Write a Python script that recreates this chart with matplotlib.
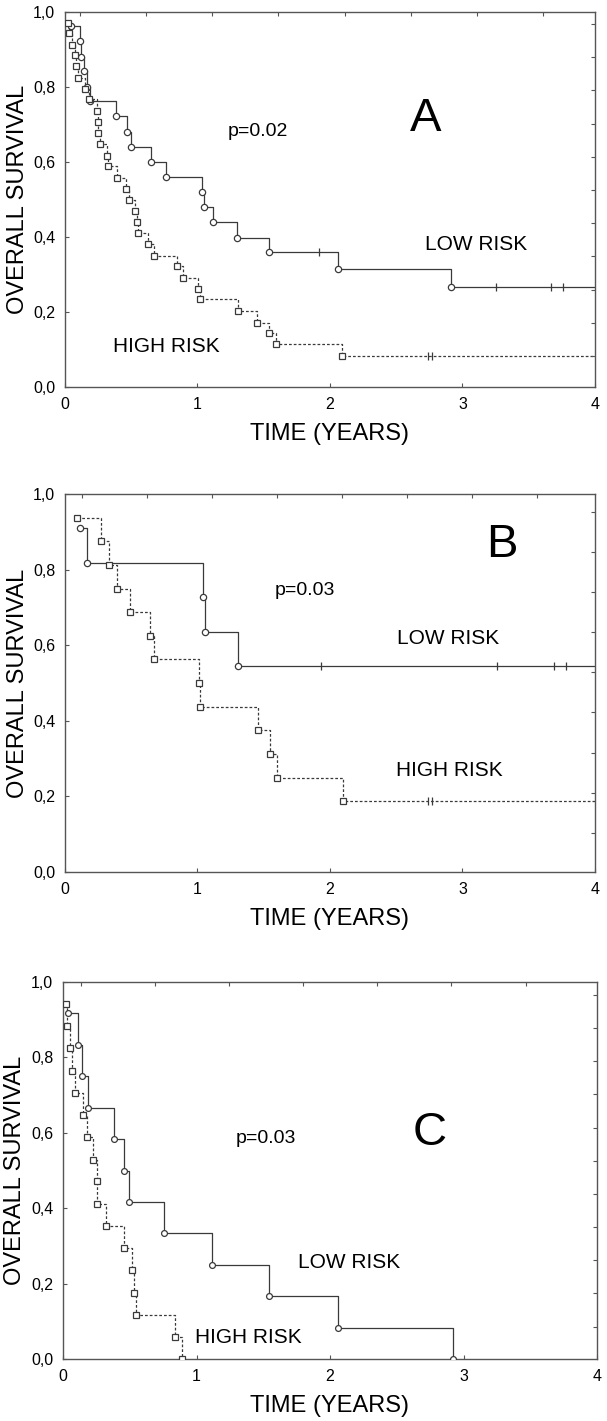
import numpy as np
import matplotlib
matplotlib.use("Agg")
import matplotlib.pyplot as plt

plt.rcParams["font.family"] = ["Liberation Sans", "DejaVu Sans"]

# panel A
a_low_t = [0.045, 0.113, 0.123, 0.146, 0.163, 0.189, 0.385, 0.465, 0.50, 0.649, 0.762,
           1.036, 1.049, 1.12, 1.30, 1.54, 2.063, 2.91]
a_low_s = [0.963, 0.922, 0.881, 0.843, 0.799, 0.763, 0.722, 0.681, 0.641, 0.599, 0.56,
           0.519, 0.479, 0.439, 0.398, 0.359, 0.314, 0.267]
a_low_cens_t = [1.917, 3.25, 3.67, 3.76]
a_low_cens_s = [0.359, 0.267, 0.267, 0.267]
a_high_t = [0.025, 0.03, 0.055, 0.078, 0.083, 0.10, 0.151, 0.181, 0.239, 0.251, 0.252,
            0.264, 0.319, 0.327, 0.39, 0.46, 0.485, 0.528, 0.541, 0.553, 0.629, 0.672,
            0.843, 0.888, 1.006, 1.019, 1.308, 1.447, 1.54, 1.59, 2.09]
a_high_s = [0.972, 0.943, 0.913, 0.885, 0.856, 0.825, 0.796, 0.767, 0.737, 0.708, 0.676,
            0.648, 0.617, 0.589, 0.558, 0.529, 0.50, 0.469, 0.441, 0.41, 0.381, 0.35,
            0.323, 0.292, 0.261, 0.235, 0.203, 0.172, 0.145, 0.114, 0.084]
a_high_cens_t = [2.74, 2.77]
a_high_cens_s = [0.084, 0.084]

# panel B
b_low_t = [0.113, 0.168, 1.04, 1.06, 1.308]
b_low_s = [0.909, 0.818, 0.727, 0.636, 0.545]
b_low_cens_t = [1.93, 3.26, 3.69, 3.78]
b_low_cens_s = [0.545, 0.545, 0.545, 0.545]
b_high_t = [0.088, 0.27, 0.334, 0.395, 0.49, 0.639, 0.672, 1.014, 1.019, 1.459, 1.547,
            1.60, 2.10]
b_high_s = [0.9375, 0.875, 0.8125, 0.75, 0.6875, 0.625, 0.5625, 0.5, 0.4375, 0.375,
            0.3125, 0.25, 0.1875]
b_high_cens_t = [2.74, 2.77]
b_high_cens_s = [0.1875, 0.1875]

# panel C
c_low_t = [0.04, 0.11, 0.14, 0.19, 0.383, 0.457, 0.497, 0.757, 1.118, 1.545, 2.06, 2.92]
c_low_s = [0.917, 0.833, 0.75, 0.667, 0.583, 0.5, 0.417, 0.333, 0.25, 0.167, 0.083, 0.0]
c_high_t = [0.02, 0.03, 0.05, 0.07, 0.09, 0.147, 0.177, 0.227, 0.252, 0.255, 0.32, 0.457,
            0.52, 0.533, 0.55, 0.84, 0.89]
c_high_s = [0.941, 0.882, 0.824, 0.765, 0.706, 0.647, 0.588, 0.529, 0.471, 0.412, 0.353,
            0.294, 0.235, 0.176, 0.118, 0.059, 0.0]

x_ticks = [0, 1, 2, 3, 4]
y_ticks = [0.0, 0.2, 0.4, 0.6, 0.8, 1.0]
y_ticklabels = ["0,0", "0,2", "0,4", "0,6", "0,8", "1,0"]

LINE = "#3a3a3a"
SPINE = "#555555"


def km(ax, t, s, marker, ls, end=None, cens_t=(), cens_s=(), ms=4.5):
    # curve starts at the first event, as in the original software
    xs = list(t)
    ys = list(s)
    if end is not None:
        xs.append(end)
        ys.append(s[-1])
    ax.step(xs, ys, where="post", color=LINE, lw=0.9, ls=ls, zorder=2)
    ax.plot(t, s, ls="none", marker=marker, ms=ms, mfc="white", mec=LINE, mew=0.9, zorder=3)
    if len(cens_t):
        ax.plot(cens_t, cens_s, ls="none", marker="|", ms=6, mec=LINE, mew=0.9, zorder=3)


def frame(ax, top_ticks, right_ticks):
    ax.set_xlim(0, 4)
    ax.set_ylim(0, 1)
    ax.set_xticks(x_ticks)
    ax.set_xticklabels([str(v) for v in x_ticks])
    ax.set_yticks(y_ticks)
    ax.set_yticklabels(y_ticklabels)
    ax.tick_params(direction="in", length=3, width=0.8, color=SPINE, labelsize=11.5,
                   pad=7)
    for sp in ax.spines.values():
        sp.set_color(SPINE)
        sp.set_linewidth(1.0)
    tx = ax.twiny()
    tx.set_xlim(0, 4)
    tx.set_xticks(top_ticks)
    tx.set_xticklabels([])
    tx.tick_params(direction="in", length=3, width=0.8, color=SPINE)
    ty = ax.twinx()
    ty.set_ylim(0, 1)
    ty.set_yticks(right_ticks)
    ty.set_yticklabels([])
    ty.tick_params(direction="in", length=3, width=0.8, color=SPINE)
    for tw in (tx, ty):
        for sp in tw.spines.values():
            sp.set_visible(False)
    ax.text(0.5, -0.125, "TIME (YEARS)", transform=ax.transAxes, ha="center",
            va="center", fontsize=17)
    ax.text(-0.089, 0.5, "OVERALL SURVIVAL", transform=ax.transAxes, ha="center",
            va="center", rotation=90, fontsize=17)


fig = plt.figure(figsize=(6.07, 14.21), dpi=100)
W, H = 607.0, 1421.0

# A
ax = fig.add_axes([65 / W, 1 - 387 / H, 530 / W, 375 / H])
km(ax, a_low_t, a_low_s, "o", "-", 4, a_low_cens_t, a_low_cens_s)
km(ax, a_high_t, a_high_s, "s", (0, (2.2, 1.6)), 4, a_high_cens_t, a_high_cens_s, ms=5)
frame(ax, np.arange(0.11, 4, 0.5), np.arange(0.083, 1.0, 0.0885))
ax.text(1.23, 0.68, "p=0.02", fontsize=14, va="center", ha="left")
ax.text(2.72, 0.715, "A", fontsize=34, va="center", ha="center")
ax.text(3.10, 0.379, "LOW RISK", fontsize=15, va="center", ha="center")
ax.text(0.765, 0.107, "HIGH RISK", fontsize=15, va="center", ha="center")

# B
ax = fig.add_axes([65 / W, 1 - 872 / H, 530 / W, 378 / H])
km(ax, b_low_t, b_low_s, "o", "-", 4, b_low_cens_t, b_low_cens_s)
km(ax, b_high_t, b_high_s, "s", (0, (2.2, 1.6)), 4, b_high_cens_t, b_high_cens_s, ms=5)
frame(ax, np.arange(0.126, 4, 0.491), np.arange(0.952, 0.0, -0.106))
ax.text(1.585, 0.745, "p=0.03", fontsize=14, va="center", ha="left")
ax.text(3.30, 0.866, "B", fontsize=34, va="center", ha="center")
ax.text(2.89, 0.618, "LOW RISK", fontsize=15, va="center", ha="center")
ax.text(2.90, 0.268, "HIGH RISK", fontsize=15, va="center", ha="center")

# C
ax = fig.add_axes([63 / W, 1 - 1359 / H, 534 / W, 377 / H])
km(ax, c_low_t, c_low_s, "o", "-", None, ms=4.2)
km(ax, c_high_t, c_high_s, "s", (0, (2.2, 1.6)), None, ms=4.5)
frame(ax, np.arange(0.135, 4, 0.555), np.arange(0.086, 1.0, 0.088))
ax.text(1.29, 0.585, "p=0.03", fontsize=14, va="center", ha="left")
ax.text(2.75, 0.60, "C", fontsize=34, va="center", ha="center")
ax.text(2.14, 0.256, "LOW RISK", fontsize=15, va="center", ha="center")
ax.text(1.386, 0.057, "HIGH RISK", fontsize=15, va="center", ha="center")

fig.savefig("out.png", dpi=100)
